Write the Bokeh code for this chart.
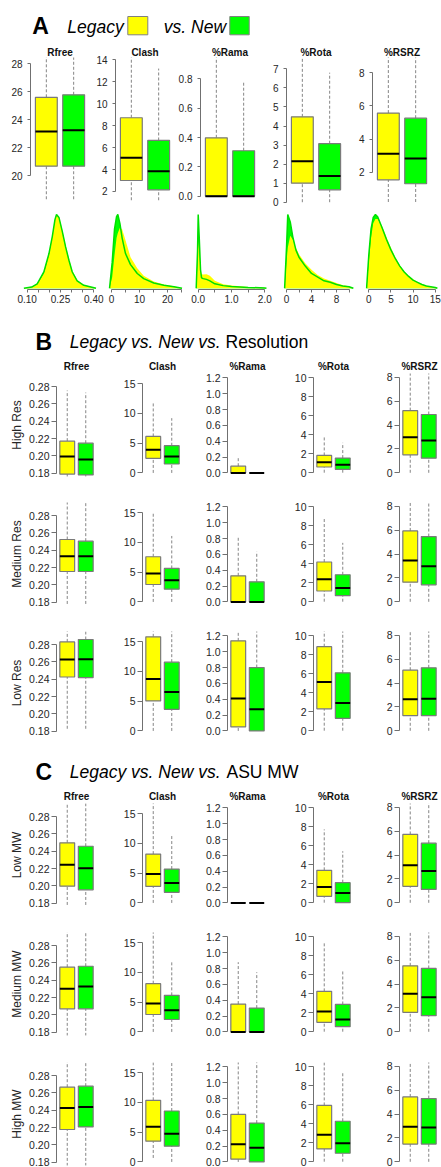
from bokeh.plotting import figure
from bokeh.layouts import column, row
from bokeh.models import (Range1d, FixedTicker, NumeralTickFormatter,
                          BoxAnnotation, ColumnDataSource, Spacer)
from bokeh.core.properties import value
from bokeh.embed import file_html
from bokeh.resources import INLINE

# ------------------------------------------------------------------ data
METRICS = ["Rfree", "Clash", "%Rama", "%Rota", "%RSRZ"]
# each tuple: (lower whisker, Q1, median, Q3, upper whisker), one per metric
A_LEGACY = [(18.3, 20.67, 23.15, 25.6, 28.6), (1.2, 3.0, 5.07, 8.72, 14.5),
            (0.0, 0.0, 0.0, 0.398, 1.0), (0.0, 1.0, 2.15, 4.48, 7.8),
            (0.2, 1.54, 3.11, 5.57, 9.0)]
A_NEW = [(18.3, 20.67, 23.24, 25.78, 28.6), (1.2, 2.15, 3.85, 6.65, 13.2),
         (0.0, 0.0, 0.0, 0.31, 0.78), (0.0, 0.65, 1.38, 3.07, 6.8),
         (0.2, 1.3, 2.83, 5.26, 9.0)]

B_HIGH_LEGACY = [(0.17, 0.179, 0.1993, 0.217, 0.2754), (0, 2.45, 3.9, 6.13, 11.8),
                 (0, 0, 0, 0.085, 0.195), (0, 0.6, 1.1, 1.82, 3.82), (0, 1.5, 2.98, 5.2, 9.0)]
B_HIGH_NEW = [(0.17, 0.178, 0.1958, 0.2146, 0.273), (0, 1.5, 2.78, 4.57, 9.2),
              (0, 0, 0, 0, 0), (0, 0.35, 0.84, 1.54, 3.15), (0, 1.22, 2.7, 4.88, 9.0)]
B_MED_LEGACY = [(0.178, 0.2154, 0.233, 0.2523, 0.30), (0, 2.93, 4.79, 7.59, 14.9),
                (0, 0, 0, 0.33, 0.835), (0, 1.13, 2.36, 4.18, 8.78), (0, 1.64, 3.45, 5.93, 9.0)]
B_MED_NEW = [(0.178, 0.2154, 0.233, 0.2504, 0.30), (0, 2.14, 3.66, 5.63, 11.08),
             (0, 0, 0, 0.254, 0.635), (0, 0.63, 1.44, 2.84, 6.2), (0, 1.42, 2.97, 5.46, 9.0)]
B_LOW_LEGACY = [(0.1828, 0.2425, 0.2626, 0.283, 0.30), (0, 5.04, 8.72, 15.8, 17.0),
                (0, 0.05, 0.41, 1.137, 1.3), (0, 2.3, 5.12, 8.85, 11.0), (0, 1.27, 2.65, 5.07, 9.0)]
B_LOW_NEW = [(0.1828, 0.2418, 0.263, 0.2858, 0.30), (0, 3.63, 6.52, 11.55, 17.0),
             (0, 0, 0.275, 0.80, 1.3), (0, 1.3, 2.93, 6.1, 11.0), (0, 1.27, 2.68, 5.27, 9.0)]

C_LOW_LEGACY = [(0.178, 0.1996, 0.2243, 0.2497, 0.30), (0, 2.78, 4.85, 8.2, 17.0),
                (0, 0, 0, 0, 0), (0, 0.67, 1.65, 3.41, 7.72), (0, 1.38, 3.15, 5.72, 9.0)]
C_LOW_NEW = [(0.178, 0.1954, 0.2204, 0.2457, 0.30), (0, 1.78, 3.35, 5.69, 11.55),
             (0, 0, 0, 0, 0), (0, 0.0, 1.01, 2.11, 5.42), (0, 1.12, 2.67, 4.99, 9.0)]
C_MED_LEGACY = [(0.17, 0.207, 0.230, 0.2550, 0.30), (0, 2.93, 4.78, 8.1, 17.0),
                (0, 0, 0, 0.352, 0.88), (0, 0.99, 2.13, 4.25, 9.32), (0, 1.63, 3.19, 5.52, 9.0)]
C_MED_NEW = [(0.17, 0.207, 0.2327, 0.2561, 0.30), (0, 2.09, 3.66, 6.14, 11.92),
             (0, 0, 0, 0.301, 0.753), (0, 0.53, 1.28, 2.87, 6.38), (0, 1.35, 2.9, 5.3, 9.0)]
C_HIGH_LEGACY = [(0.17, 0.2177, 0.2426, 0.2665, 0.30), (0.67, 3.49, 5.9, 10.35, 17.0),
                 (0, 0.035, 0.222, 0.60, 1.3), (0, 1.35, 2.84, 5.93, 11.0), (0, 1.48, 2.94, 5.43, 9.0)]
C_HIGH_NEW = [(0.17, 0.2207, 0.2438, 0.2677, 0.30), (0, 2.65, 4.72, 8.55, 17.0),
              (0, 0, 0.18, 0.49, 1.3), (0, 0.89, 1.95, 4.26, 9.34), (0, 1.48, 2.86, 5.29, 9.0)]

ROW_LABELS_B = ["High Res", "Medium Res", "Low Res"]
ROW_LABELS_C = ["Low MW", "Medium MW", "High MW"]

A_TICKS = [[20, 22, 24, 26, 28], [2, 4, 6, 8, 10, 12, 14], [0, 0.2, 0.4, 0.6, 0.8],
           [0, 1, 2, 3, 4, 5, 6, 7], [2, 4, 6, 8]]
A_FORMATS = ["0", "0", "0.0", "0", "0"]
BC_TICKS = [[0.18, 0.20, 0.22, 0.24, 0.26, 0.28], [0, 5, 10, 15],
            [0, 0.2, 0.4, 0.6, 0.8, 1.0, 1.2], [0, 2, 4, 6, 8, 10], [0, 2, 4, 6, 8]]
BC_FORMATS = ["0.00", "0", "0.0", "0", "0"]

# density curves (relative height), Legacy vs New
RFREE_X = [0.085, 0.12, 0.145, 0.175, 0.198, 0.213, 0.225, 0.232, 0.243, 0.258, 0.273, 0.288, 0.303, 0.325, 0.355, 0.41]
RFREE_D_NEW = [0, 0.015, 0.06, 0.22, 0.47, 0.70, 0.93, 1.0, 0.96, 0.77, 0.56, 0.38, 0.22, 0.10, 0.04, 0]
RFREE_D_LEGACY = [0, 0.015, 0.055, 0.20, 0.45, 0.69, 0.92, 0.99, 0.97, 0.79, 0.58, 0.40, 0.24, 0.11, 0.045, 0]
CLASH_X = [-0.7, 0.24, 1.07, 1.8, 2.26, 3.0, 3.8, 5.0, 6.8, 9.2, 11.5, 15.1, 18.7, 22.3, 25.2]
CLASH_D_NEW = [0, 0.35, 0.8, 0.97, 1.0, 0.88, 0.68, 0.47, 0.32, 0.2, 0.13, 0.07, 0.04, 0.02, 0]
CLASH_D_LEGACY = [0, 0.15, 0.45, 0.68, 0.75, 0.82, 0.80, 0.65, 0.42, 0.27, 0.17, 0.09, 0.05, 0.025, 0]
RAMA_X = [-0.06, -0.02, 0.0, 0.03, 0.07, 0.1, 0.15, 0.25, 0.35, 0.5, 0.75, 1.0, 1.5, 2.0, 2.05]
RAMA_D_NEW = [0, 0.5, 1.0, 0.7, 0.25, 0.14, 0.13, 0.12, 0.1, 0.06, 0.035, 0.022, 0.01, 0.004, 0]
RAMA_D_LEGACY = [0, 0.35, 0.66, 0.5, 0.25, 0.19, 0.185, 0.19, 0.17, 0.1, 0.055, 0.036, 0.015, 0.005, 0]
ROTA_X = [-0.3, 0.0, 0.2, 0.6, 1.0, 1.5, 2.0, 3.0, 4.0, 5.0, 6.0, 7.0, 8.0, 9.0, 10.0, 10.7]
ROTA_D_NEW = [0, 0.55, 1.0, 0.9, 0.7, 0.52, 0.42, 0.3, 0.2, 0.15, 0.1, 0.08, 0.05, 0.03, 0.02, 0]
ROTA_D_LEGACY = [0, 0.35, 0.55, 0.71, 0.66, 0.55, 0.46, 0.34, 0.25, 0.18, 0.13, 0.1, 0.07, 0.04, 0.025, 0]
RSRZ_X = [-0.5, 0, 0.5, 1.0, 1.5, 2.0, 3, 4, 5, 6, 7, 8, 9, 10, 11, 12, 13, 14, 15, 15.5]
RSRZ_D_NEW = [0, 0.45, 0.8, 0.96, 1.0, 0.97, 0.82, 0.66, 0.52, 0.4, 0.3, 0.22, 0.16, 0.11, 0.08, 0.05, 0.03, 0.02, 0.01, 0]
RSRZ_D_LEGACY = [0, 0.35, 0.68, 0.88, 0.94, 0.94, 0.84, 0.69, 0.55, 0.42, 0.31, 0.23, 0.17, 0.12, 0.085, 0.055, 0.035, 0.02, 0.01, 0]

DENS_LABELED = [[0.10, 0.25, 0.40], [0, 10, 20], [0.0, 1.0, 2.0], [0, 4, 8], [0, 5, 10, 15]]
DENS_MINOR = [[0.15, 0.20, 0.30, 0.35], [5, 15, 25], [0.5, 1.5], [2, 6, 10], []]
DENS_FORMATS = ["0.00", "0", "0.0", "0", "0"]

# ------------------------------------------------------------------ style
FONT = "Liberation Sans"
YELLOW = "#FFFF00"
GREEN = "#00FF00"
GREEN_LINE = "#00E000"
BOX_LINE = "#7a7a7a"
WHISK = "#858585"
AXIS = "#707070"
LABEL = "#262626"
W = 441
MID = 0.345  # baseline-to-middle offset, in font sizes

A_FIG_EDGES = [0, 89, 174, 259, 345, 441]
A_FRAME_L = [30, 115, 200, 286, 372]
A_FRAME_W = 59
A_YR = [(17.71, 28.45), (0.54, 14.21), (-0.077, 0.9455), (-0.278, 7.596), (-0.133, 8.925)]

ROW_PAD = 6
BC_FIG_EDGES = [ROW_PAD, 96, 182, 267, 353, 441]
BC_FRAME_L = [56, 142, 227, 313, 399]
BC_FRAME_W = 40
BC_YR = [(0.1762, 0.2950), (-0.6, 16.7), (-0.045, 1.255), (-0.4, 10.45), (-0.31, 8.31)]

D_FIG_EDGES = [0, 104, 190, 278, 362, 441]
D_FRAME = [(22, 98), (107, 185), (194, 268), (282, 356), (365, 438)]
D_CAL = [(0.10, 26.7, 0.40, 93.3), (0, 111, 25, 181), (0.0, 197.7, 2.0, 264.3),
         (0, 286, 8, 336), (0, 368.3, 15, 434.7)]


def style_axis(ax, ticks, fmt, size, tick_out, standoff, minor=None):
    minor = list(minor or [])
    ax.ticker = FixedTicker(ticks=list(ticks), minor_ticks=minor)
    ax.formatter = NumeralTickFormatter(format=fmt)
    allt = sorted(list(ticks) + minor)
    ax.bounds = (allt[0], allt[-1])
    ax.axis_line_color = AXIS
    ax.major_tick_line_color = AXIS
    ax.major_tick_out = tick_out
    ax.major_tick_in = 0
    if minor:
        ax.minor_tick_line_color = AXIS
        ax.minor_tick_out = tick_out
        ax.minor_tick_in = 0
    else:
        ax.minor_tick_line_color = None
    ax.major_label_standoff = standoff
    ax.major_label_text_font = FONT
    ax.major_label_text_font_size = size
    ax.major_label_text_color = LABEL


def box_fig(fig_l, fig_r, frame_l, frame_w, fig_t, fig_b, frame_t, frame_b, yr,
            ticks, fmt, leg, new, tick_size, tick_out, standoff,
            title=None, title_standoff=0, ylabel=None):
    p = figure(width=fig_r - fig_l, height=fig_b - fig_t,
               x_range=Range1d(0.42, 2.58), y_range=Range1d(yr[0], yr[1]),
               output_backend="svg", toolbar_location=None,
               x_axis_location=None, y_axis_location="left",
               min_border_left=frame_l - fig_l, min_border_right=fig_r - (frame_l + frame_w),
               min_border_top=frame_t - fig_t, min_border_bottom=fig_b - frame_b,
               title=title)
    p.grid.visible = False
    p.outline_line_color = None
    p.background_fill_color = "white"
    p.border_fill_color = "white"
    if title:
        p.title.text_font = FONT
        p.title.text_font_size = "10px"
        p.title.text_font_style = "bold"
        p.title.text_color = "#111111"
        p.title.align = "center"
        p.title.standoff = title_standoff
        p.title.offset = 0
    pos = [1, 2]
    data = dict(pos=pos,
                left=[x - 0.4 for x in pos], right=[x + 0.4 for x in pos],
                lo=[leg[0], new[0]], q1=[leg[1], new[1]], med=[leg[2], new[2]],
                q3=[leg[3], new[3]], hi=[leg[4], new[4]], color=[YELLOW, GREEN])
    src = ColumnDataSource(data)
    p.segment(x0="pos", y0="q3", x1="pos", y1="hi", source=src,
              line_color=WHISK, line_width=1, line_dash="3 2")
    p.segment(x0="pos", y0="lo", x1="pos", y1="q1", source=src,
              line_color=WHISK, line_width=1, line_dash="3 2")
    p.vbar(x="pos", width=0.8, bottom="q1", top="q3", source=src,
           fill_color="color", line_color=BOX_LINE, line_width=1.2)
    p.segment(x0="left", y0="med", x1="right", y1="med", source=src,
              line_color="black", line_width=2)
    ax = p.yaxis[0]
    style_axis(ax, ticks, fmt, tick_size, tick_out, standoff)
    if ylabel:
        ax.axis_label = ylabel
        ax.axis_label_text_font = FONT
        ax.axis_label_text_font_size = "12px"
        ax.axis_label_text_font_style = "normal"
        ax.axis_label_text_color = LABEL
        ax.axis_label_standoff = 2
    return p


def dens_fig(i, xs, leg, new, fig_t, fig_b, frame_t, frame_b):
    fl, fr = D_FIG_EDGES[i], D_FIG_EDGES[i + 1]
    l, r = D_FRAME[i]
    va, pa, vb, pb = D_CAL[i]
    scale = (pb - pa) / (vb - va)
    xr = (va + (l - pa) / scale, va + (r - pa) / scale)
    p = figure(width=fr - fl, height=fig_b - fig_t,
               x_range=Range1d(*xr), y_range=Range1d(-0.0176, 1.0271),
               output_backend="svg", toolbar_location=None,
               y_axis_location=None, x_axis_location="below",
               min_border_left=l - fl, min_border_right=fr - r,
               min_border_top=frame_t - fig_t, min_border_bottom=fig_b - frame_b)
    p.grid.visible = False
    p.outline_line_color = None
    p.varea(x=xs, y1=0, y2=new, fill_color=GREEN)
    p.varea(x=xs, y1=0, y2=leg, fill_color=YELLOW)
    p.line(x=xs, y=new, line_color=GREEN_LINE, line_width=1.5)
    style_axis(p.xaxis[0], DENS_LABELED[i], DENS_FORMATS[i], "10px", 3, 2, DENS_MINOR[i])
    return p


def header_fig(top, bottom, parts, boxes=()):
    # page coordinates: x to the right, y downward (stored negated so the range increases upward)
    p = figure(width=W, height=bottom - top, x_range=Range1d(0, W),
               y_range=Range1d(-bottom, -top), output_backend="svg", toolbar_location=None,
               x_axis_location=None, y_axis_location=None,
               min_border_left=0, min_border_right=0, min_border_top=0, min_border_bottom=0)
    p.grid.visible = False
    p.outline_line_color = None
    for (x, base, txt, size, style) in parts:
        mid = base - MID * size
        p.text(x=[x], y=[-mid], text=[txt], text_font=value(FONT),
               text_font_size=value(f"{size}px"),
               text_font_style=style, text_color="black",
               text_align="left", text_baseline="middle")
    for (l, r, t, b, c) in boxes:
        p.add_layout(BoxAnnotation(left=l, right=r, top=-t, bottom=-b, fill_color=c,
                                   fill_alpha=1.0, line_color="#808080", line_alpha=1.0,
                                   line_width=1))
    return p


# ------------------------------------------------------------------ build
rows = []

# Panel A header
rows.append(header_fig(0, 40, [
    (31.7, 33.3, "A", 23, "bold"),
    (66.7, 32.5, "Legacy", 17.5, "italic"),
    (163.3, 32.5, "vs. New", 17.5, "italic"),
], boxes=[(127.3, 147.3, 16, 34.3, YELLOW), (229.3, 248.7, 16, 34.3, GREEN)]))

# Panel A boxes
figs = []
for i in range(5):
    figs.append(box_fig(A_FIG_EDGES[i], A_FIG_EDGES[i + 1], A_FRAME_L[i], A_FRAME_W,
                        40, 209, 57, 207, A_YR[i], A_TICKS[i], A_FORMATS[i],
                        A_LEGACY[i], A_NEW[i], "10px", 3, 5,
                        title=METRICS[i], title_standoff=0))
rows.append(row(*figs))

# Panel A densities
dens_x = [RFREE_X, CLASH_X, RAMA_X, ROTA_X, RSRZ_X]
dens_leg = [RFREE_D_LEGACY, CLASH_D_LEGACY, RAMA_D_LEGACY, ROTA_D_LEGACY, RSRZ_D_LEGACY]
dens_new = [RFREE_D_NEW, CLASH_D_NEW, RAMA_D_NEW, ROTA_D_NEW, RSRZ_D_NEW]
rows.append(row(*[dens_fig(i, dens_x[i], dens_leg[i], dens_new[i], 209, 312, 212, 289)
                  for i in range(5)]))

# Panel B header
rows.append(header_fig(312, 354, [
    (35, 349.5, "B", 23, "bold"),
    (69.3, 347.7, "Legacy vs. New vs.", 17.5, "italic"),
    (225, 347.7, "Resolution", 17.5, "normal"),
]))


def panel_rows(specs):
    out = []
    for (fig_t, fig_b, frame_t, frame_b, leg, new, lab, first) in specs:
        figs = [Spacer(width=ROW_PAD, height=fig_b - fig_t)]
        for i in range(5):
            figs.append(box_fig(BC_FIG_EDGES[i], BC_FIG_EDGES[i + 1], BC_FRAME_L[i], BC_FRAME_W,
                                fig_t, fig_b, frame_t, frame_b, BC_YR[i], BC_TICKS[i],
                                BC_FORMATS[i], leg[i], new[i], "10.5px", 5, 2,
                                title=METRICS[i] if first else None, title_standoff=4,
                                ylabel=lab if i == 0 else None))
        out.append(row(*figs))
    return out


rows += panel_rows([
    (354, 478, 373, 476, B_HIGH_LEGACY, B_HIGH_NEW, ROW_LABELS_B[0], True),
    (478, 607, 502, 605, B_MED_LEGACY, B_MED_NEW, ROW_LABELS_B[1], False),
    (607, 736, 631, 734, B_LOW_LEGACY, B_LOW_NEW, ROW_LABELS_B[2], False),
])

# Panel C header
rows.append(header_fig(736, 785, [
    (35, 779, "C", 23, "bold"),
    (69.3, 778, "Legacy vs. New vs.", 17.5, "italic"),
    (226, 778, "ASU MW", 17.5, "normal"),
]))

rows += panel_rows([
    (785, 908, 803, 906, C_LOW_LEGACY, C_LOW_NEW, ROW_LABELS_C[0], True),
    (908, 1037, 932, 1035, C_MED_LEGACY, C_MED_NEW, ROW_LABELS_C[1], False),
    (1037, 1167, 1062, 1165, C_HIGH_LEGACY, C_HIGH_NEW, ROW_LABELS_C[2], False),
])

layout = column(*rows)
open("out.html", "w").write(file_html(layout, INLINE, title="Legacy vs New"))
